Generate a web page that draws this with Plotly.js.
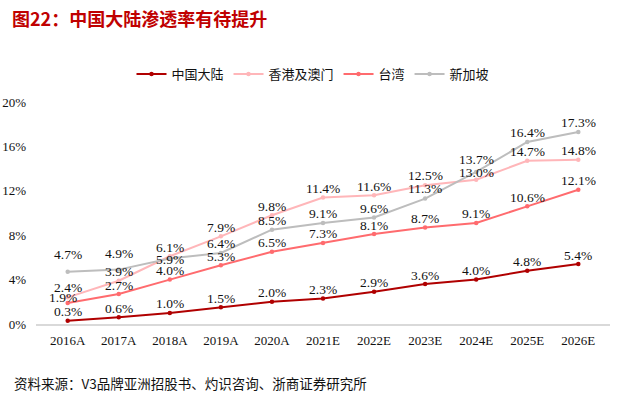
<!DOCTYPE html>
<html>
<head>
<meta charset="utf-8">
<script src="https://cdn.plot.ly/plotly-3.0.1.min.js"></script>
<style>html,body{margin:0;padding:0;background:#fff;}#chart{width:626px;height:399px;}</style>
</head>
<body>
<div id="chart"></div>
<script>
var years = ["2016A","2017A","2018A","2019A","2020A","2021E","2022E","2023E","2024E","2025E","2026E"];
var mainland = [0.3,0.6,1.0,1.5,2.0,2.3,2.9,3.6,4.0,4.8,5.4];
var hkMacau = [2.4,3.9,6.1,7.9,9.8,11.4,11.6,12.5,13.0,14.7,14.8];
var taiwan = [1.9,2.7,4.0,5.3,6.5,7.3,8.1,8.7,9.1,10.6,12.1];
var singapore = [4.7,4.9,5.9,6.4,8.5,9.1,9.6,11.3,13.7,16.4,17.3];
var seriesNames = ["中国大陆","香港及澳门","台湾","新加坡"];
var colors = ["#B00000","#FFB6B9","#FF6B6E","#BDBDBD"];
var yTicks = [0,4,8,12,16,20];

var serif = "Liberation Serif, Times New Roman, serif";
var sans = "Noto Sans CJK SC, sans-serif";

var allSeries = [mainland, hkMacau, taiwan, singapore];

// label placement (pixels above each point), with a few hand-placed exceptions seen in the reference
var labelShift = {"3-0": [0, 17], "3-1": [0, 16], "3-2": [0, -1], "2-0": [-5, 5], "1-0": [0, 10],
                  "3-8": [0, 12], "1-8": [0, 7], "3-7": [0, 10], "1-7": [0, 10]};

var data = allSeries.map(function(vals, i) {
  return {
    type: "scatter", mode: "lines+markers", name: seriesNames[i],
    x: years, y: vals,
    line: {color: colors[i], width: 2},
    marker: {color: colors[i], size: 4.5},
    cliponaxis: false
  };
});

var annotations = [];
allSeries.forEach(function(vals, i) {
  vals.forEach(function(v, j) {
    var s = labelShift[i + "-" + j] || [0, 9];
    annotations.push({
      x: years[j], y: v, xref: "x", yref: "y", text: v.toFixed(1) + "%",
      showarrow: false, xanchor: "center", yanchor: "middle",
      xshift: s[0], yshift: s[1],
      font: {family: serif, size: 13.5, color: "#111"}
    });
  });
});
annotations.push({text: "资料来源：V3品牌亚洲招股书、灼识咨询、浙商证券研究所", xref: "paper", yref: "paper", showarrow: false,
  x: (12 - 36) / (626 - 36 - 16), y: -(383 - 324) / (324 - 102), xanchor: "left", yanchor: "middle",
  font: {family: sans, size: 13.5, color: "#111"}});

var layout = {
  width: 626, height: 399,
  margin: {l: 36, r: 16, t: 102, b: 75},
  paper_bgcolor: "#fff", plot_bgcolor: "#fff",
  showlegend: true,
  legend: {orientation: "h", x: 0.5, xanchor: "center", xref: "container", y: 1 - 74/399, yref: "container", yanchor: "middle",
           font: {family: sans, size: 13, color: "#111"}, itemwidth: 30, tracegroupgap: 0},
  title: {text: "图22：中国大陆渗透率有待提升", xref: "container", yref: "container", x: 12/626, xanchor: "left",
          y: 1 - 20/399, yanchor: "middle", font: {family: sans, size: 18, color: "#C00000", weight: "bold"}},
  xaxis: {type: "category", showgrid: false, zeroline: false, showline: true, linecolor: "#D9D9D9", linewidth: 1.5,
          ticks: "", ticklabelstandoff: 4, tickfont: {family: serif, size: 13, color: "#111"}, fixedrange: true},
  yaxis: {range: [0, 20], tickvals: yTicks, ticktext: yTicks.map(function(v){return v+"%";}), showgrid: false, zeroline: false,
          showline: false, ticks: "", ticklabelstandoff: 9, tickfont: {family: serif, size: 13, color: "#111"}, fixedrange: true},
  annotations: annotations
};
Plotly.newPlot("chart", data, layout, {displayModeBar: false, staticPlot: true});
</script>
</body>
</html>
